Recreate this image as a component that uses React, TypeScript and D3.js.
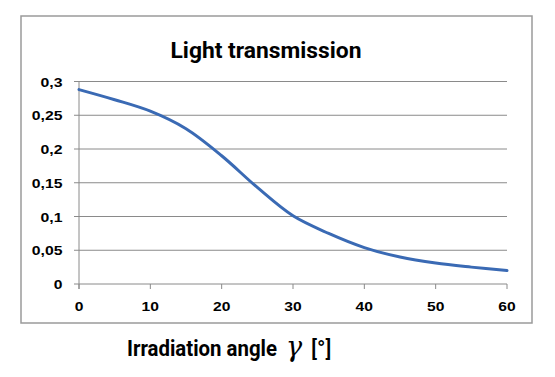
import React from "react";
import * as d3 from "d3";

const angles = [0, 5, 10, 15, 20, 25, 30, 35, 40, 45, 50, 55, 60];
const transmission = [0.288, 0.273, 0.256, 0.230, 0.190, 0.143, 0.101, 0.075, 0.054, 0.040, 0.031, 0.025, 0.020];
const xTicks = [0, 10, 20, 30, 40, 50, 60];
const yTicks = [0, 0.05, 0.1, 0.15, 0.2, 0.25, 0.3];
const yTickLabels = ["0", "0,05", "0,1", "0,15", "0,2", "0,25", "0,3"];
const title = "Light transmission";
const xTitle = "Irradiation angle";

export default function App() {
  const W = 555, H = 377;
  const x = d3.scaleLinear().domain([0, 60]).range([79, 507]);
  const y = d3.scaleLinear().domain([0, 0.3]).range([284, 81.5]);
  const data = angles.map((a, i) => [a, transmission[i]] as [number, number]);
  const line = d3
    .line<[number, number]>()
    .x((d) => x(d[0]))
    .y((d) => y(d[1]))
    .curve(d3.curveCatmullRom.alpha(0.5));
  const gridColor = "#8a8a8a";
  const labelFont = "'Liberation Sans', Arial, sans-serif";
  const titleFont = "Roboto, 'DejaVu Sans', sans-serif";
  const digitW = (s: string) => s.replace(",", "").length * 8.7 + (s.includes(",") ? 4.6 : 0);
  return (
    <svg width={W} height={H} style={{ position: "absolute", left: 0, top: 0, background: "#fff" }}>
      <rect x={0} y={0} width={W} height={H} fill="#fff" />
      <rect x={21} y={16} width={511} height={307} fill="#fff" stroke="#9a9a9a" strokeWidth={1.5} />
      <text
        x={266}
        y={58}
        textAnchor="middle"
        fontFamily={titleFont}
        fontWeight={700}
        fontSize={21.5}
        textLength={191}
        lengthAdjust="spacingAndGlyphs"
        fill="#000"
      >
        {title}
      </text>
      {yTicks.map((t, i) => (
        <g key={"y" + i}>
          <line x1={74} x2={x(60)} y1={y(t)} y2={y(t)} stroke={gridColor} strokeWidth={1} />
          <text
            x={62.5}
            y={y(t) + 5}
            textAnchor="end"
            fontFamily={labelFont}
            fontWeight={700}
            fontSize={13.5}
            textLength={digitW(yTickLabels[i])}
            lengthAdjust="spacingAndGlyphs"
            fill="#000"
          >
            {yTickLabels[i]}
          </text>
        </g>
      ))}
      <line x1={x(0)} x2={x(0)} y1={y(0.3)} y2={y(0) + 5} stroke={gridColor} strokeWidth={1} />
      {xTicks.map((t) => (
        <g key={"x" + t}>
          <line x1={x(t)} x2={x(t)} y1={y(0)} y2={y(0) + 5} stroke={gridColor} strokeWidth={1} />
          <text
            x={x(t)}
            y={311}
            textAnchor="middle"
            fontFamily={labelFont}
            fontWeight={700}
            fontSize={13.5}
            textLength={digitW(String(t))}
            lengthAdjust="spacingAndGlyphs"
            fill="#000"
          >
            {t}
          </text>
        </g>
      ))}
      <path d={line(data) || ""} fill="none" stroke="#3a6ab4" strokeWidth={3} strokeLinecap="round" />
      <text
        x={127}
        y={356}
        fontFamily={titleFont}
        fontWeight={700}
        fontSize={21.5}
        textLength={150}
        lengthAdjust="spacingAndGlyphs"
        fill="#000"
      >
        {xTitle}
      </text>
      <text x={286} y={356} fontFamily="'DejaVu Serif', serif" fontStyle="italic" fontSize={27} fill="#000">
        γ
      </text>
      <text x={311} y={356} fontFamily={titleFont} fontWeight={500} fontSize={22} fill="#000">
        [°]
      </text>
    </svg>
  );
}
